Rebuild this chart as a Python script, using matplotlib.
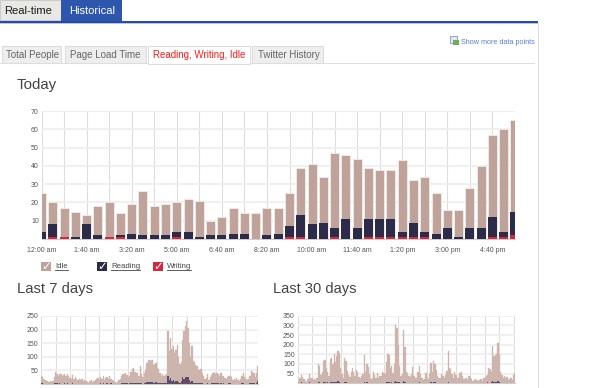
import matplotlib
matplotlib.use("Agg")
import matplotlib.pyplot as plt
from matplotlib.patches import Rectangle
import numpy as np

plt.rcParams['font.family'] = ['Liberation Sans', 'DejaVu Sans']

W, H = 612, 388
IDLE, READ, WRITE = '#bfa299', '#2d2b4a', '#d9263f'
IDLE_SMALL, READ_SMALL = '#cdb5ad', '#55506e'
TXT = '#555555'

today_labels = ['12:00 am', '1:40 am', '3:20 am', '5:00 am', '6:40 am', '8:20 am',
                '10:00 am', '11:40 am', '1:20 pm', '3:00 pm', '4:40 pm']
today_total = [25, 20, 17, 15, 13, 18, 20, 14, 19, 26, 18, 19, 20, 22, 21, 10, 12, 17, 14, 14, 17, 17,
               25, 39, 41, 34, 47, 46, 44, 39, 38, 38, 43, 32, 34, 25, 16, 16, 28, 40, 57, 60, 65]
today_reading = [4, 8, 1, 1, 8, 2, 1, 2, 3, 2, 2, 2, 4, 4, 1, 2, 2, 3, 3, 0, 2, 3,
                 7, 13, 8, 9, 6, 11, 6, 11, 11, 11, 4, 9, 4, 3, 6, 1, 6, 6, 12, 4, 15]
today_writing = [0, 1, 1, 0, 0, 0, 1, 1, 0, 0, 0, 0, 1, 0, 0, 0, 0, 0, 0, 0, 0, 0,
                 1, 1, 0, 0, 1, 0, 0, 1, 1, 1, 1, 1, 1, 0, 0, 0, 0, 0, 1, 1, 2]

week_total = [30, 24, 18, 15, 12, 10, 8, 10, 9, 12, 25,
              45, 38, 30, 35, 38, 30, 32, 38, 30, 35, 28,
              22, 20, 32, 18, 24, 20, 16, 20, 15, 18, 12,
              14, 10, 6, 5, 10, 14, 8, 10, 14, 18, 22,
              15, 25, 20, 28, 15, 22, 26, 18, 28, 20, 15,
              10, 6, 5, 8, 14, 20, 30, 38, 36, 40, 34,
              25, 28, 45, 55, 60, 45, 40, 42, 30, 65, 35,
              25, 40, 52, 78, 88, 90, 85, 88, 70, 72, 78,
              60, 55, 40, 30, 35, 30, 32, 35, 195, 120, 170,
              130, 140, 115, 125, 145, 100, 75, 80, 160, 195, 215,
              230, 205, 150, 100, 140, 85, 80, 70, 65, 50, 52,
              55, 40, 30, 18, 22, 35, 15, 25, 32, 40, 45,
              35, 42, 38, 30, 40, 28, 30, 22, 18, 25, 30,
              30, 25, 15, 18, 15, 22, 15, 12, 20, 30, 40,
              25, 18, 15, 20, 30, 48, 45, 40, 25, 40, 65]
week_reading = [3, 2, 1, 1, 0, 1, 0, 1, 0, 1, 2,
                3, 4, 1, 2, 1, 1, 1, 3, 1, 2, 1,
                1, 1, 3, 1, 1, 1, 0, 1, 1, 1, 0,
                1, 0, 0, 0, 1, 1, 0, 0, 1, 1, 1,
                1, 2, 1, 3, 0, 1, 3, 1, 1, 2, 1,
                0, 0, 0, 0, 1, 1, 2, 4, 2, 3, 2,
                1, 2, 3, 4, 5, 4, 3, 3, 2, 4, 2,
                1, 3, 4, 6, 7, 8, 6, 7, 5, 4, 6,
                4, 3, 3, 2, 2, 2, 2, 3, 30, 16, 22,
                10, 14, 8, 10, 12, 7, 5, 6, 24, 18, 26,
                24, 26, 14, 7, 10, 5, 4, 4, 4, 2, 3,
                3, 2, 1, 1, 1, 3, 1, 1, 2, 3, 3,
                2, 3, 2, 1, 2, 1, 2, 1, 1, 1, 2,
                2, 1, 1, 1, 1, 1, 1, 0, 1, 2, 2,
                1, 1, 1, 1, 2, 3, 3, 2, 1, 3, 12]
week_writing = [0] * 96 + [0, 4, 0, 0, 0, 0, 0, 0, 0, 0, 12, 0, 0, 8, 0, 0, 14, 0, 0, 0, 0, 0] + [0] * 47

month_total = [10, 12, 30, 45, 35, 20, 12, 8, 20, 48, 30,
               25, 15, 20, 18, 30, 100, 90, 45, 60, 115, 120,
               80, 60, 40, 125, 130, 100, 150, 110, 140, 165, 155,
               80, 50, 30, 130, 115, 65, 45, 35, 60, 80, 60,
               40, 70, 60, 35, 30, 40, 50, 148, 60, 100, 85,
               50, 20, 30, 60, 45, 30, 55, 25, 40, 40, 60,
               55, 50, 110, 150, 145, 80, 90, 55, 100, 300, 285,
               200, 90, 40, 50, 278, 190, 60, 55, 40, 35, 50,
               85, 40, 25, 30, 60, 90, 50, 25, 15, 20, 55,
               30, 20, 50, 105, 60, 115, 100, 70, 40, 30, 25,
               50, 40, 30, 45, 65, 165, 80, 75, 50, 30, 60,
               45, 25, 30, 55, 60, 40, 20, 30, 25, 15, 40,
               35, 20, 12, 15, 20, 18, 10, 15, 20, 12, 30,
               25, 40, 45, 80, 75, 60, 195, 140, 145, 150, 210,
               150, 60, 45, 30, 40, 25, 35, 15, 20, 25, 15, 45, 55]
month_reading = [1, 2, 4, 5, 4, 2, 3, 1, 2, 5, 3,
                 4, 1, 3, 2, 4, 6, 5, 3, 4, 6, 7,
                 4, 5, 3, 6, 7, 5, 9, 5, 8, 10, 7,
                 4, 3, 1, 7, 6, 4, 2, 2, 4, 4, 3,
                 2, 4, 3, 1, 1, 2, 3, 7, 3, 5, 4,
                 3, 1, 2, 4, 2, 1, 3, 1, 2, 2, 3,
                 3, 2, 6, 8, 7, 4, 5, 3, 6, 12, 9,
                 7, 5, 2, 3, 11, 8, 3, 3, 2, 2, 3,
                 4, 2, 1, 2, 3, 5, 3, 1, 1, 1, 3,
                 1, 1, 3, 6, 3, 9, 5, 4, 2, 1, 1,
                 3, 2, 1, 2, 3, 7, 4, 4, 3, 1, 3,
                 2, 1, 1, 3, 3, 2, 1, 1, 1, 1, 2,
                 2, 1, 0, 1, 1, 1, 0, 1, 1, 0, 1,
                 1, 2, 2, 4, 4, 3, 11, 7, 8, 7, 10,
                 7, 3, 2, 1, 2, 1, 2, 1, 1, 1, 1, 2, 4]
month_writing = [0] * 75 + [3, 0] + [0] * 68 + [6, 0, 0, 8, 0] + [0] * 17

week_y = [50, 100, 150, 200, 250]
month_y = [50, 100, 150, 200, 250, 300, 350]
today_y = [10, 20, 30, 40, 50, 60, 70]

fig = plt.figure(figsize=(W / 100, H / 100), dpi=100, facecolor='white')


def px_axes(l, t, r, b, z=2):
    return fig.add_axes([l / W, 1 - b / H, (r - l) / W, (b - t) / H], zorder=z)


page = px_axes(0, 0, W, H, z=0)
page.set_xlim(0, W)
page.set_ylim(H, 0)
page.axis('off')


def box(x0, y0, x1, y1, fc, ec='none', lw=0.8):
    page.add_patch(Rectangle((x0, y0), x1 - x0, y1 - y0, facecolor=fc, edgecolor=ec, linewidth=lw))


def label(x, y, s, size, color='#444444', **kw):
    page.text(x, y, s, fontsize=size, color=color, va='center', ha='left', **kw)


# top tabs
box(0, 0, 61, 20, '#e8e8e4', '#cccccc')
box(61, 0, 122, 21, '#2d57ad')
box(0, 21, 538, 23, '#2a49a6')
box(0, 23, 538, 24, '#b9c4e4')
label(4.5, 11, 'Real-time', 8.0, '#1a1a1a')
label(69.5, 11.5, 'Historical', 8.0, '#ffffff')

# sub tabs
box(0, 63, 535, 63.8, '#dddddd')
box(2, 46, 61, 63, '#eeeeee', '#dddddd')
box(65, 46, 146, 63, '#eeeeee', '#dddddd')
box(148, 46, 250, 63.5, '#ffffff', '#dddddd')
box(252, 46, 323, 63, '#eeeeee', '#dddddd')
label(5.5, 55, 'Total People', 7.0, '#666666')
label(70.5, 55, 'Page Load Time', 7.0, '#666666')
label(153, 55, 'Reading, Writing, Idle', 7.0, '#ff1a1a')
label(257.5, 55, 'Twitter History', 7.0, '#666666')

# page border and data-points link
box(537.5, 23, 538.5, H, '#dddddd')
box(450, 36, 457, 43, '#dfe6f5', '#6f86c8', 0.5)
box(453, 40, 459, 45, '#6fae55')
label(461, 42, 'Show more data points', 5.2, '#5a7be0')

# headings
label(17, 85.5, 'Today', 10.8)
label(17, 289.5, 'Last 7 days', 10.7)
label(273, 289.5, 'Last 30 days', 10.5)

# legend
for x0, color, name, tx in [(41, IDLE, 'Idle', 55), (97, READ, 'Reading', 111), (153, WRITE, 'Writing', 167)]:
    box(x0, 262, x0 + 9.5, 271, color)
    page.text(x0 + 4.8, 266.3, '\u2713', fontsize=8.5, color='white', ha='center', va='center',
              family='DejaVu Sans', fontweight='bold')
    t = page.text(tx, 266.5, name, fontsize=5.6, color='#444444', va='center', ha='left')
    fig.canvas.draw()
    ext = t.get_window_extent()
    page.plot([tx, tx + ext.width], [270, 270], color='#444444', lw=0.6)


def chart(ax, total, reading, writing, yticks, ymax, grid_every, width, edge, idle_c, read_c):
    xs = np.arange(len(total))
    ax.bar(xs, total, width=width, color=idle_c, edgecolor=edge, linewidth=0.6 if edge != idle_c else 0.25, zorder=3)
    ax.bar(xs, reading, width=width, color=read_c, edgecolor='none', zorder=4)
    ax.bar(xs, writing, width=width, color=WRITE, edgecolor='none', zorder=5)
    ax.set_xlim(0, len(total) - 1)
    ax.set_ylim(0, ymax)
    ax.set_yticks(yticks)
    ax.set_xticks(xs[::grid_every])
    ax.grid(axis='y', color='#eeeeee', lw=1.2, zorder=0)
    ax.grid(axis='x', color='#dddddd', lw=0.8, zorder=0)
    ax.set_axisbelow(True)
    for s in ax.spines.values():
        s.set_visible(False)
    ax.spines['bottom'].set_visible(True)
    ax.spines['bottom'].set_color('#cccccc')
    ax.tick_params(length=0, labelsize=5.0, labelcolor=TXT, pad=2)


ax_today = px_axes(41.5, 111, 515, 239)
chart(ax_today, today_total, today_reading, today_writing, today_y, 70, 2, 0.8, '#f3ecea', IDLE, READ)
ax_today.set_xticks(np.arange(0, len(today_total), 4))
ax_today.set_xticks(np.arange(0, len(today_total), 2), minor=True)
ax_today.set_xticklabels(today_labels)
ax_today.grid(axis='x', which='minor', color='#dddddd', lw=0.8, zorder=0)
ax_today.tick_params(axis='x', which='both', length=0, pad=6)

ax_week = px_axes(41, 316, 258, 384)
chart(ax_week, week_total, week_reading, week_writing, week_y, 250, 11, 1.0, IDLE_SMALL, IDLE_SMALL, READ_SMALL)
ax_week.set_xticklabels([])

ax_month = px_axes(297.5, 315.7, 515, 383.3)
chart(ax_month, month_total, month_reading, month_writing, month_y, 350, 11, 1.0, IDLE_SMALL, IDLE_SMALL, READ_SMALL)
ax_month.set_xticklabels([])

fig.savefig('out.png', dpi=100)
